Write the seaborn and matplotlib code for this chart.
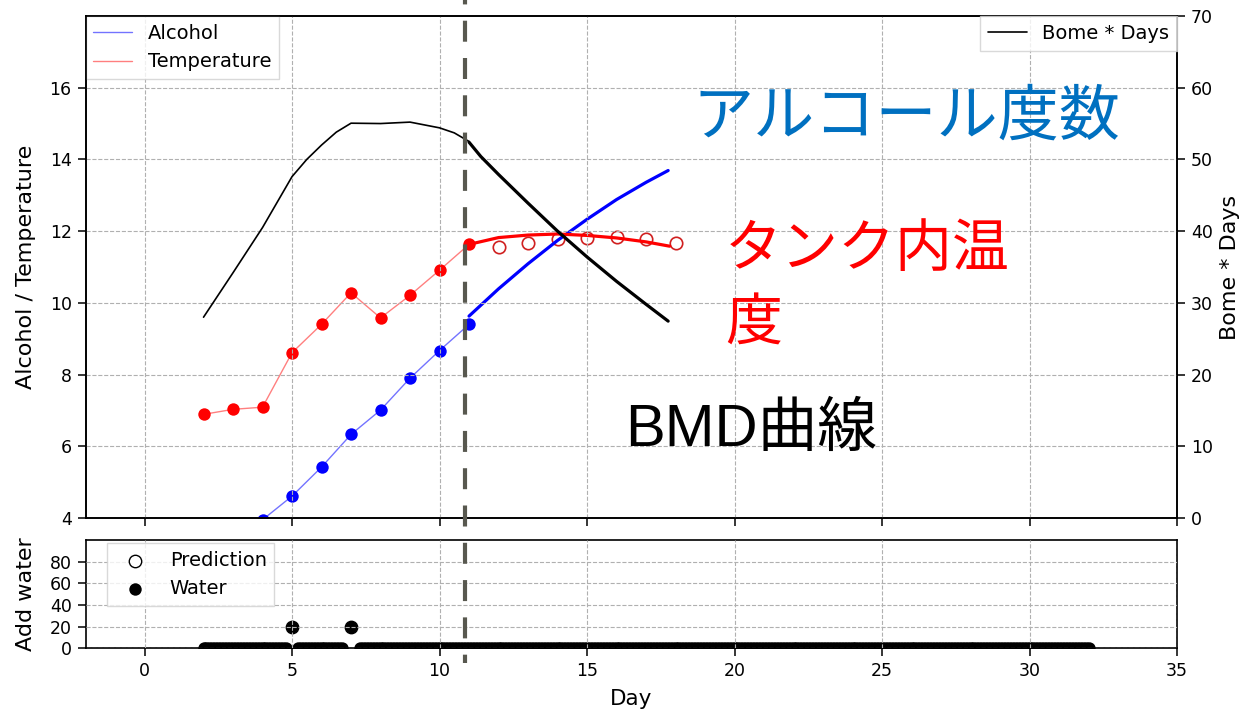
import numpy as np
import matplotlib
matplotlib.use("Agg")
import matplotlib.pyplot as plt
import matplotlib.transforms as mtransforms
from matplotlib.lines import Line2D
import seaborn as sns

# 実測値（日ごと）
obs_days = [2, 3, 4, 5, 6, 7, 8, 9, 10, 11]
temp_obs = [6.89, 7.03, 7.09, 8.61, 9.40, 10.28, 9.58, 10.21, 10.91, 11.63]
alc_days = [4, 5, 6, 7, 8, 9, 10, 11]
alc_obs = [3.95, 4.61, 5.42, 6.33, 7.01, 7.90, 8.67, 9.40]

# 予測
alc_pred_days = [11, 12, 13, 14, 15, 16, 17, 17.75]
alc_pred = [9.63, 10.39, 11.09, 11.74, 12.33, 12.88, 13.36, 13.69]
temp_pred_days = [11, 12, 13, 14, 15, 16, 17, 17.8]
temp_pred = [11.63, 11.82, 11.89, 11.92, 11.88, 11.81, 11.70, 11.58]
temp_meas_days = [12, 13, 14, 15, 16, 17, 18]
temp_meas = [11.57, 11.68, 11.78, 11.80, 11.85, 11.78, 11.68]

# BMD (Bome * Days)
bmd_days = [2, 3, 4, 5, 5.5, 6, 6.5, 7, 8, 9, 10, 10.5, 11]
bmd = [28.0, 34.2, 40.5, 47.6, 50.0, 52.0, 53.8, 55.05, 55.0, 55.2, 54.4, 53.7, 52.5]
bmd_pred_days = [11, 11.4, 12, 13, 14, 15, 16, 17, 17.75]
bmd_pred = [52.4, 50.4, 47.9, 43.9, 40.0, 36.4, 33.0, 29.8, 27.45]

# 加水量
water_days = np.round(np.arange(2.0, 32.05, 0.1), 1)
water = np.zeros(len(water_days))
water[np.isin(water_days, [5.0, 7.0])] = 20
water[np.isin(water_days, [4.9, 5.1, 6.8, 6.9, 7.1, 7.2])] = np.nan
pred_water_days = [5, 7]
pred_water = [20, 20]

today = 10.87

sns.set_style("ticks", {"axes.edgecolor": "black", "text.color": "black",
                        "axes.labelcolor": "black", "xtick.color": "black",
                        "ytick.color": "black"})
plt.rcParams['font.family'] = ['DejaVu Sans', 'Noto Sans CJK JP']
plt.rcParams['axes.linewidth'] = 1.2

fig = plt.figure(figsize=(12.45, 7.13), dpi=100)
ax = fig.add_axes([0.0687, 0.2735, 0.8767, 0.7041])
axw = fig.add_axes([0.0687, 0.0907, 0.8767, 0.1519], sharex=ax)
ax2 = ax.twinx()

# アルコール・温度
sns.lineplot(x=alc_days, y=alc_obs, ax=ax, color='blue', lw=1, alpha=0.55,
             label='Alcohol', legend=False)
sns.lineplot(x=obs_days, y=temp_obs, ax=ax, color='red', lw=1, alpha=0.5,
             label='Temperature', legend=False)
sns.scatterplot(x=alc_days, y=alc_obs, ax=ax, color='blue', s=80, linewidth=0)
sns.scatterplot(x=obs_days, y=temp_obs, ax=ax, color='red', s=80, linewidth=0)
sns.lineplot(x=alc_pred_days, y=alc_pred, ax=ax, color='blue', lw=2.3)
sns.lineplot(x=temp_pred_days, y=temp_pred, ax=ax, color='red', lw=2.3)
sns.scatterplot(x=temp_meas_days, y=temp_meas, ax=ax, s=80, facecolor='white',
                edgecolor='#d02020', linewidth=1.2)

# BMD
sns.lineplot(x=bmd_days, y=bmd, ax=ax2, color='black', lw=1.2,
             label='Bome * Days', legend=False)
sns.lineplot(x=bmd_pred_days, y=bmd_pred, ax=ax2, color='black', lw=2.3)

# 加水
sns.scatterplot(x=pred_water_days, y=pred_water, ax=axw, s=80, facecolor='white',
                edgecolor='black', linewidth=1, label='Prediction')
sns.scatterplot(x=water_days, y=water, ax=axw, color='black', s=80, linewidth=0,
                label='Water')

ax.set_xlim(-2, 35)
ax.set_xticks(range(0, 36, 5))
ax.set_ylim(4, 18)
ax.set_yticks(range(4, 17, 2))
ax2.set_ylim(0, 70)
ax2.set_yticks(range(0, 71, 10))
axw.set_ylim(0, 100)
axw.set_yticks(range(0, 81, 20))

for a in (ax, axw):
    a.set_axisbelow(False)
    a.grid(True, ls='--', color='#b0b0b0', lw=0.8)
for a in (ax, ax2, axw):
    a.tick_params(labelsize=12.5, length=5.5, width=1.1, pad=4.5)
    for sp in a.spines.values():
        sp.set_visible(True)
        sp.set_linewidth(1.2)
ax.tick_params(labelbottom=False)

ax.set_xlabel('')
ax.set_ylabel('Alcohol / Temperature', fontsize=16, labelpad=10)
ax2.set_ylabel('Bome * Days', fontsize=16, labelpad=5)
axw.set_ylabel('Add water', fontsize=16, labelpad=10)
axw.set_xlabel('Day', fontsize=15.5, labelpad=6)

ax.legend(loc='upper left', fontsize=14, borderaxespad=0, fancybox=False,
          edgecolor='#d0d0d0')
ax2.legend(loc='upper right', fontsize=14, borderaxespad=0, fancybox=False,
           edgecolor='#d0d0d0')
axw.legend(loc='upper left', bbox_to_anchor=(0.0174, 1.0), borderaxespad=0.15,
           fontsize=14, fancybox=False, edgecolor='#d0d0d0')

# 注釈
jp = ['Noto Sans CJK JP', 'DejaVu Sans']
ax.text(18.58, 15.18, 'アルコール度数', color='#0070c0', fontsize=44,
        family=jp, ha='left', va='center')
ax.text(19.68, 11.47, 'タンク内温', color='red', fontsize=41,
        family=jp, ha='left', va='center')
ax.text(19.68, 9.41, '度', color='red', fontsize=41,
        family=jp, ha='left', va='center')
ax.text(16.3, 6.0, 'BMD曲線', color='black', fontsize=43,
        family=['Liberation Sans', 'Noto Sans CJK JP'], ha='left', va='baseline')

# 現在日の縦線（上下のグラフをまたぐ）
trans = mtransforms.blended_transform_factory(ax.transData, fig.transFigure)
fig.add_artist(Line2D([today, today], [1.0, 1 - 663 / 713], transform=trans,
                      color='#58584f', lw=3, linestyle=(3.98, (5.04, 3.91))))

fig.savefig('out.png', dpi=100)
